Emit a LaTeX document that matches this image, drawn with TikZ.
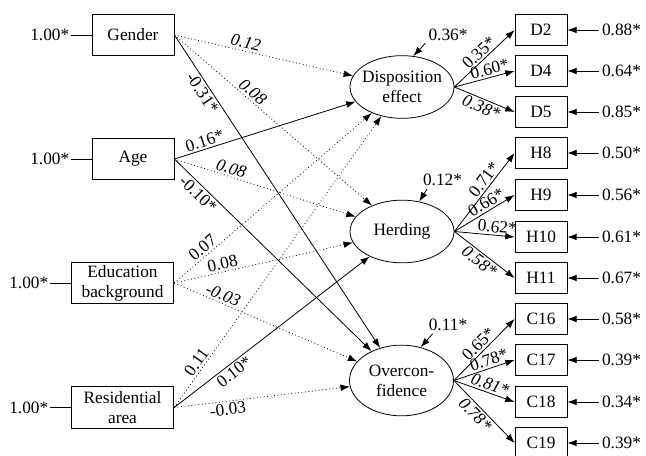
\documentclass[tikz,border=0pt]{standalone}
\usepackage{fontspec}
\setmainfont{Liberation Serif}
\usetikzlibrary{positioning,arrows.meta,shapes.geometric}

\tikzset{
  exo/.style={draw, minimum height=31pt, inner sep=1pt, align=center},
  ind/.style={draw, minimum width=39pt, minimum height=23pt, inner sep=1pt},
  lat/.style={draw, ellipse, align=center, inner xsep=-4pt, inner ysep=0pt,
    minimum width=78pt, minimum height=47pt},
  arr/.style={-{Latex[length=7pt,width=5pt]}},
  ns/.style={arr, dotted},
  coef/.style={sloped, inner sep=1.5pt},
  icoef/.style={coef, font=\fontsize{13}{15}\selectfont\itshape},
  err/.style={inner sep=1pt},
}

\begin{document}
\begin{tikzpicture}[x=0.75pt, y=-0.75pt, line width=0.6pt, font=\fontsize{13}{15}\selectfont]
  \useasboundingbox (0,0) rectangle (646,456);

  % exogenous
  \node[exo, minimum width=61.5pt] (gender) at (133,35) {Gender};
  \node[exo, minimum width=61.5pt] (age) at (133,159) {Age};
  \node[exo, minimum width=77pt] (edu) at (122.5,283) {Education\\background};
  \node[exo, minimum width=77pt] (res) at (122.5,407.5) {Residential\\area};

  \begin{scope}[every node/.style={err, anchor=east}]
    \node (egender) at (71,35) {1.00*};
    \node (eage) at (71,159) {1.00*};
    \node (eedu) at (50,283) {1.00*};
    \node (eres) at (50,407.5) {1.00*};
  \end{scope}
  \draw (egender) -- (gender);
  \draw (eage) -- (age);
  \draw (eedu) -- (edu);
  \draw (eres) -- (res);

  % latent
  \node[lat] (disp) at (402,87) {Disposition\\effect};
  \node[lat] (herd) at (402,231.5) {Herding};
  \node[lat, minimum height=53pt] (over) at (401.5,380.5) {Overcon-\\fidence};

  \begin{scope}[every node/.style={inner sep=2pt}]
    \node (rdisp) at (448,35) {0.36*};
    \node (rherd) at (442.5,180) {0.12*};
    \node (rover) at (448,325) {0.11*};
  \end{scope}
  \draw[arr] (rdisp.-160) -- (disp.70);
  \draw[arr] (rherd.-150) -- (herd.60);
  \draw[arr] (rover.-150) -- (over.60);

  % indicators
  \begin{scope}[every node/.style={ind}]
    \node (d2)  at (541,30)  {D2};
    \node (d4)  at (541,71)  {D4};
    \node (d5)  at (541,112) {D5};
    \node (h8)  at (541,153) {H8};
    \node (h9)  at (541,195) {H9};
    \node (h10) at (541,237) {H10};
    \node (h11) at (541,278) {H11};
    \node (c16) at (541,319) {C16};
    \node (c17) at (541,360) {C17};
    \node (c18) at (541,402) {C18};
    \node (c19) at (541,443) {C19};
  \end{scope}

  \begin{scope}[every node/.style={anchor=west, inner sep=2pt}]
    \node (ed2)  at (599,30)  {0.88*};
    \node (ed4)  at (599,71)  {0.64*};
    \node (ed5)  at (599,112) {0.85*};
    \node (eh8)  at (599,153) {0.50*};
    \node (eh9)  at (599,195) {0.56*};
    \node (eh10) at (599,237) {0.61*};
    \node (eh11) at (599,278) {0.67*};
    \node (ec16) at (599,319) {0.58*};
    \node (ec17) at (599,360) {0.39*};
    \node (ec18) at (599,402) {0.34*};
    \node (ec19) at (599,443) {0.39*};
  \end{scope}
  \foreach \v in {d2,d4,d5,h8,h9,h10,h11,c16,c17,c18,c19}
    \draw[arr] (e\v) -- (\v);

  % loadings
  \draw[arr] (disp.east) -- node[coef, above, pos=.5] {0.35*} (d2.west);
  \draw[arr] (disp.east) -- node[coef, above, pos=.62] {0.60*} (d4.west);
  \draw[arr] (disp.east) -- node[icoef, below, pos=.5] {0.38*} (d5.west);
  \draw[arr] (herd.east) -- node[coef, above, pos=.6] {0.71*} (h8.west);
  \draw[arr] (herd.east) -- node[coef, above, pos=.6] {0.66*} (h9.west);
  \draw[arr] (herd.east) -- node[coef, above, pos=.7] {0.62*} (h10.west);
  \draw[arr] (herd.east) -- node[icoef, below, pos=.5] {0.58*} (h11.west);
  \draw[arr] (over.east) -- node[coef, above, pos=.5] {0.65*} (c16.west);
  \draw[arr] (over.east) -- node[coef, above, pos=.62] {0.78*} (c17.west);
  \draw[arr] (over.east) -- node[icoef, above, pos=.55] {0.81*} (c18.west);
  \draw[arr] (over.east) -- node[icoef, below, pos=.45] {0.78*} (c19.west);

  % structural paths
  \draw[ns]  (gender.east) -- node[icoef, above, pos=.39] {0.12} (disp);
  \draw[ns]  (gender.east) -- node[icoef, above, pos=.37] {0.08} (herd);
  \draw[arr] (gender.east) -- node[coef, below, pos=.17] {-0.31*} (over);
  \draw[arr] (age.east) -- node[coef, above, pos=.18] {0.16*} (disp);
  \draw[ns]  (age.east) -- node[icoef, above, pos=.3] {0.08} (herd);
  \draw[arr] (age.east) -- node[coef, below, pos=.15] {-0.10*} (over);
  \draw[ns]  (edu.east) -- node[coef, above, pos=.17] {0.07} (disp);
  \draw[ns]  (edu.east) -- node[coef, above, pos=.28] {0.08} (herd);
  \draw[ns]  (edu.east) -- node[icoef, above, pos=.25] {-0.03} (over);
  \draw[ns]  (res.east) -- node[coef, above, pos=.14] {0.11} (disp);
  \draw[arr] (res.east) -- node[coef, below, pos=.28] {0.10*} (herd);
  \draw[ns]  (res.east) -- node[coef, below, pos=.3] {-0.03} (over);

\end{tikzpicture}
\end{document}
